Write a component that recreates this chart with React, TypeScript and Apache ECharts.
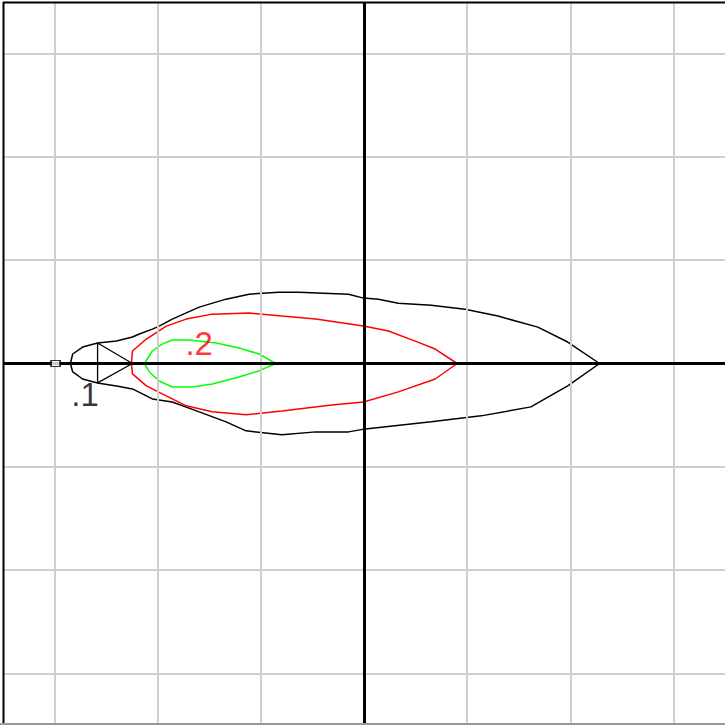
import React, { useEffect, useRef } from "react";
import * as echarts from "echarts";

// Grid line positions (axis units)
const gridTicks = [-3, -2, -1, 1, 2, 3];

// Outer contour (black), labelled ".1"
const outerContour: [number, number][] = [
  [2.284, 0], [1.975, 0.208], [1.685, 0.352], [1.299, 0.459], [0.98, 0.526],
  [0.652, 0.565], [0.333, 0.584], [0.14, 0.623], [-0.005, 0.633], [-0.15, 0.671],
  [-0.633, 0.69], [-0.826, 0.69], [-1.115, 0.671], [-1.337, 0.623], [-1.598, 0.546],
  [-1.859, 0.43], [-1.985, 0.362], [-2.052, 0.333], [-2.178, 0.285], [-2.245, 0.257],
  [-2.4, 0.217], [-2.583, 0.198], [-2.728, 0.159], [-2.824, 0.092], [-2.847, 0.0],
  [-2.824, -0.082], [-2.728, -0.15], [-2.583, -0.188], [-2.4, -0.217], [-2.245, -0.246],
  [-2.052, -0.343], [-1.859, -0.372], [-1.598, -0.468], [-1.337, -0.565], [-1.144, -0.652],
  [-0.797, -0.69], [-0.468, -0.662], [-0.15, -0.662], [0.014, -0.633], [0.652, -0.565],
  [1.135, -0.507], [1.618, -0.42], [1.975, -0.217], [2.284, 0],
];

// Middle contour (red), labelled ".2"
const middleContour: [number, number][] = [
  [0.903, 0], [0.69, 0.14], [0.497, 0.217], [0.237, 0.314], [-0.005, 0.362],
  [-0.468, 0.43], [-0.797, 0.459], [-1.115, 0.488], [-1.472, 0.478], [-1.724, 0.43],
  [-1.917, 0.362], [-2.11, 0.237], [-2.245, 0.121], [-2.255, 0],
  [-2.245, -0.101], [-2.11, -0.217], [-1.917, -0.314], [-1.724, -0.41], [-1.472, -0.468],
  [-1.144, -0.497], [-0.797, -0.459], [-0.314, -0.401], [-0.005, -0.372], [0.333, -0.275],
  [0.69, -0.15], [0.903, 0],
];

// Inner contour (green)
const innerContour: [number, number][] = [
  [-0.855, 0], [-1.019, 0.092], [-1.212, 0.15], [-1.434, 0.198], [-1.695, 0.227],
  [-1.859, 0.227], [-1.956, 0.188], [-2.052, 0.121], [-2.129, 0],
  [-2.081, -0.082], [-1.985, -0.169], [-1.859, -0.227], [-1.666, -0.227], [-1.472, -0.198],
  [-1.212, -0.13], [-1.019, -0.072], [-0.855, 0],
];

// Triangle marker
const triangle: [number, number][] = [
  [-2.583, 0.198], [-2.245, 0], [-2.583, -0.188], [-2.583, 0.198],
];

// Small square marker
const squarePoint: [number, number][] = [[-2.99, 0]];

// Contour labels
const labelNames = [".1", ".2"];
const labelPositions: [number, number][] = [[-2.704, -0.3], [-1.598, 0.19]];
const labelColors = ["#000000", "#ff0000"];

export default function App() {
  const ref = useRef<HTMLDivElement>(null);

  useEffect(() => {
    if (!ref.current) return;
    const chart = echarts.init(ref.current, undefined, { renderer: "svg" });
    const hiddenAxis = {
      type: "value" as const,
      min: -3.5,
      max: 3.5,
      axisLine: { show: false },
      axisTick: { show: false },
      axisLabel: { show: false },
      splitLine: { show: false },
    };
    chart.setOption({
      animation: false,
      backgroundColor: "#ffffff",
      grid: { left: 3, top: 2, width: 725, height: 725 },
      xAxis: hiddenAxis,
      yAxis: hiddenAxis,
      graphic: [
        { type: "line", shape: { x1: 3.5, y1: 2, x2: 3.5, y2: 725 }, style: { stroke: "#000", lineWidth: 2 }, z: 100 },
        { type: "line", shape: { x1: 3, y1: 2.5, x2: 725, y2: 2.5 }, style: { stroke: "#000", lineWidth: 2 }, z: 100 },
        { type: "line", shape: { x1: 0, y1: 724, x2: 725, y2: 724 }, style: { stroke: "#999", lineWidth: 2 }, z: 100 },
      ],
      series: [
        {
          type: "line",
          data: [],
          silent: true,
          z: 1,
          markLine: {
            silent: true,
            symbol: ["none", "none"],
            label: { show: false },
            lineStyle: { color: "#cfcfcf", width: 2, type: "solid" },
            data: [
              ...gridTicks.map((v) => ({ xAxis: v })),
              ...gridTicks.map((v) => ({ yAxis: v })),
            ],
          },
        },
        {
          type: "line",
          data: [],
          silent: true,
          z: 2,
          markLine: {
            silent: true,
            symbol: ["none", "none"],
            label: { show: false },
            lineStyle: { color: "#000000", width: 3, type: "solid" },
            data: [{ xAxis: 0 }, { yAxis: 0 }],
          },
        },
        {
          type: "line",
          data: outerContour,
          showSymbol: false,
          z: 3,
          lineStyle: { color: "#000000", width: 1.5 },
        },
        {
          type: "line",
          data: middleContour,
          showSymbol: false,
          z: 3,
          lineStyle: { color: "#ff0000", width: 1.5 },
        },
        {
          type: "line",
          data: innerContour,
          showSymbol: false,
          z: 3,
          lineStyle: { color: "#00ff00", width: 1.5 },
        },
        {
          type: "line",
          data: triangle,
          showSymbol: false,
          z: 3,
          lineStyle: { color: "#000000", width: 1.3 },
        },
        {
          type: "scatter",
          data: squarePoint,
          symbol: "rect",
          symbolSize: [9, 6],
          z: 6,
          itemStyle: { color: "#ffffff", borderColor: "#000000", borderWidth: 1.5 },
        },
        {
          type: "scatter",
          symbolSize: 0,
          z: 5,
          data: labelNames.map((n, i) => ({
            name: n,
            value: labelPositions[i],
            label: {
              show: true,
              position: "inside",
              formatter: n,
              color: labelColors[i],
              fontSize: 33,
              fontFamily: "Liberation Sans, Arial, sans-serif",
              align: "center",
              verticalAlign: "middle",
            },
          })),
        },
      ],
    });
    return () => chart.dispose();
  }, []);

  return (
    <div
      ref={ref}
      style={{ position: "fixed", left: 0, top: 0, width: 725, height: 725, overflow: "hidden", background: "#fff" }}
    />
  );
}
